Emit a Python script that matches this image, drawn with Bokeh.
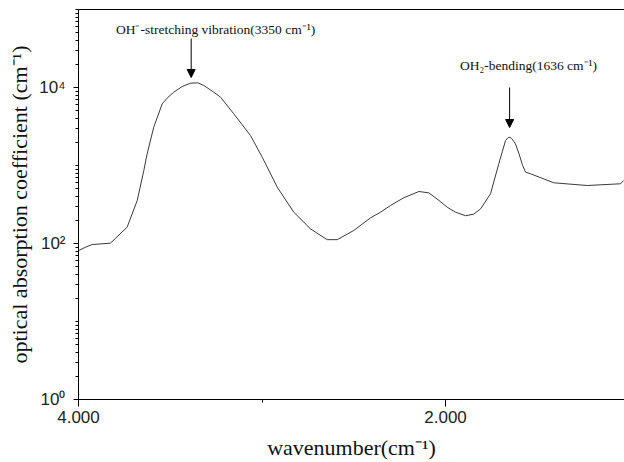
from bokeh.plotting import figure
from bokeh.models import (Range1d, FixedTicker, LinearAxis, Arrow, NormalHead,
                          Label, ColumnDataSource)
from bokeh.embed import file_html
from bokeh.resources import INLINE

# --- data ---
wavenumber = [4000, 3960, 3925, 3826, 3735, 3680, 3644, 3626, 3590, 3544,
              3512, 3481, 3435, 3390, 3350, 3317, 3263, 3226, 3154, 3063,
              2999, 2917, 2827, 2736, 2645, 2590, 2500, 2409, 2354, 2300,
              2227, 2145, 2091, 2036, 1991, 1946, 1891, 1846, 1809, 1755,
              1710, 1690, 1673, 1660, 1650, 1640, 1619, 1600, 1580, 1564,
              1537, 1410, 1228, 1046, 1030]
absorption = [81, 90, 97, 101, 162, 356, 863, 1413, 3098, 6180,
              7510, 8710, 10300, 11350, 11480, 10610, 8710, 7510, 4600, 2425,
              1278, 527, 252, 154, 112, 112, 147, 213, 252, 307,
              387, 464, 446, 356, 292, 252, 227, 238, 278, 434,
              1051, 1525, 2093, 2265, 2306, 2220, 1898, 1413, 1000, 821,
              783, 600, 554, 583, 642]

x_major_ticks = [4000, 2000]
x_minor_ticks = [3000, 1000]
x_tick_labels = {4000: "4.000", 2000: "2.000"}
y_major_ticks = [1, 100, 10000]
y_tick_labels = {1: "10\u2070", 100: "10\u00b2", 10000: "10\u2074"}
y_minor_ticks = [m * 10 ** d for d in range(5) for m in range(2, 11)]

ann_texts = ["OH\u207b-stretching vibration(3350 cm\u207b\u00b9)",
             "OH\u2082-bending(1636 cm\u207b\u00b9)"]
ann_text_x = [3253, 1548]
ann_text_y = [55400, 19150]
arrow_x = [3386, 1651]
arrow_y_start = [42500, 10000]
arrow_y_end = [13440, 3070]

p = figure(width=624, height=462, output_backend="svg", toolbar_location=None,
           y_axis_type="log",
           x_range=Range1d(4000, 1025), y_range=Range1d(1, 1e5),
           min_border_left=78, min_border_right=0, min_border_top=9,
           min_border_bottom=63)
p.grid.visible = False
p.outline_line_color = None
p.background_fill_color = "white"
p.border_fill_color = "white"

src = ColumnDataSource(dict(x=wavenumber, y=absorption))
p.line("x", "y", source=src, line_color="#3a3a3a", line_width=1,
       line_join="round")

# x axis
xa = p.xaxis[0]
xa.ticker = FixedTicker(ticks=x_major_ticks, minor_ticks=x_minor_ticks)
xa.major_label_overrides = x_tick_labels
xa.axis_label = "wavenumber(cm\u207b\u00b9)"
xa.axis_label_text_font = "Liberation Serif"
xa.axis_label_text_font_style = "normal"
xa.axis_label_text_font_size = "22px"
xa.axis_label_text_color = "#111111"
xa.axis_label_standoff = 9
xa.major_label_text_font = "Liberation Sans"
xa.major_label_text_font_size = "17px"
xa.major_label_text_color = "#222222"
xa.major_label_standoff = 4
xa.major_tick_out = 7
xa.major_tick_in = 0
xa.minor_tick_out = 3
xa.minor_tick_in = 0
xa.axis_line_color = "black"
xa.major_tick_line_color = "black"
xa.minor_tick_line_color = "black"

# y axis
ya = p.yaxis[0]
ya.ticker = FixedTicker(ticks=y_major_ticks, minor_ticks=y_minor_ticks)
ya.major_label_overrides = y_tick_labels
ya.axis_label = "optical absorption coefficient (cm\u207b\u00b9)"
ya.axis_label_text_font = "Liberation Serif"
ya.axis_label_text_font_style = "normal"
ya.axis_label_text_font_size = "22px"
ya.axis_label_text_color = "#111111"
ya.axis_label_standoff = 4
ya.major_label_text_font = "Liberation Sans"
ya.major_label_text_font_size = "17px"
ya.major_label_text_color = "#222222"
ya.major_label_standoff = 8
ya.major_tick_out = 5
ya.major_tick_in = 0
ya.minor_tick_out = 3
ya.minor_tick_in = 0
ya.axis_line_color = "black"
ya.major_tick_line_color = "black"
ya.minor_tick_line_color = "black"

# top frame line
top = LinearAxis(ticker=FixedTicker(ticks=[]), major_tick_out=0, major_tick_in=0,
                 minor_tick_out=0, minor_tick_in=0, major_label_standoff=0,
                 axis_line_color="black")
p.add_layout(top, "above")

# annotations
for t, tx, ty in zip(ann_texts, ann_text_x, ann_text_y):
    p.add_layout(Label(x=tx, y=ty, text=t, text_align="center",
                       text_baseline="middle", text_font="Liberation Serif",
                       text_font_size="13.5px", text_color="#111111"))
for ax, y0, y1 in zip(arrow_x, arrow_y_start, arrow_y_end):
    p.add_layout(Arrow(x_start=ax, y_start=y0, x_end=ax, y_end=y1,
                       line_color="black", line_width=1,
                       end=NormalHead(size=8, fill_color="black",
                                      line_color="black")))

open("out.html", "w").write(file_html(p, INLINE))
